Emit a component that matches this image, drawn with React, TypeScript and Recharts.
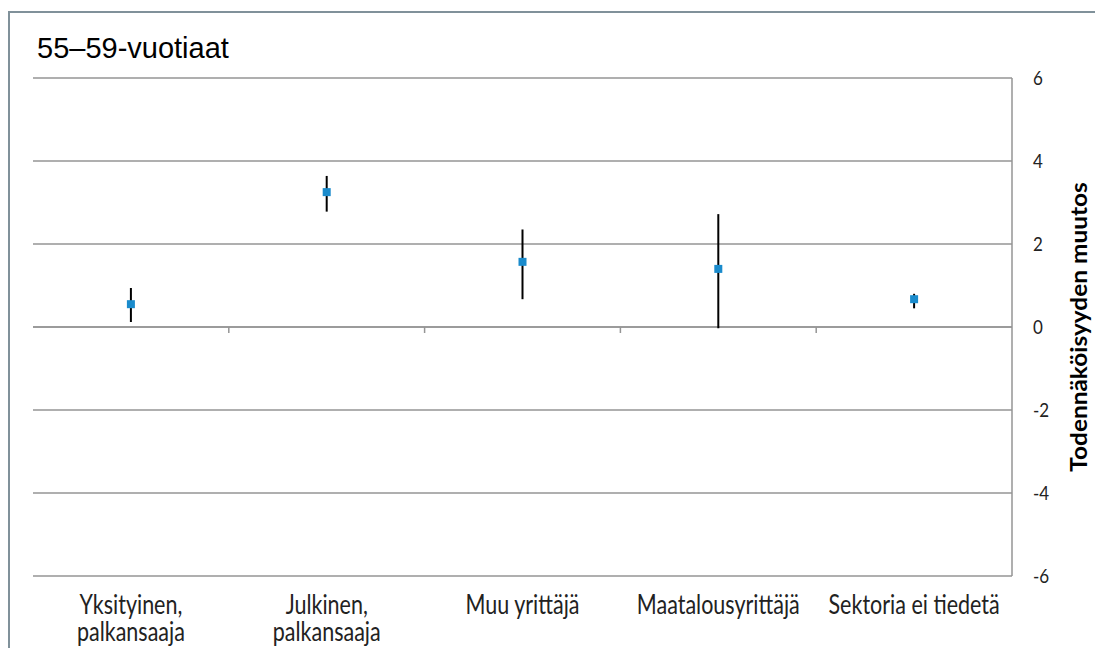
import React from "react";
import {
  ComposedChart,
  Line,
  XAxis,
  YAxis,
  CartesianGrid,
  ErrorBar,
  ReferenceLine,
  Label,
} from "recharts";

// category labels, broken into the lines they are drawn on
const categoryLines = [
  ["Yksityinen,", "palkansaaja"],
  ["Julkinen,", "palkansaaja"],
  ["Muu yrittäjä"],
  ["Maatalousyrittäjä"],
  ["Sektoria ei tiedetä"],
];
const categories = categoryLines.map((l) => l.join(" "));

// estimate and 95% interval
const estimates = [0.55, 3.25, 1.57, 1.4, 0.67];
const lowerBounds = [0.12, 2.78, 0.67, -0.03, 0.45];
const upperBounds = [0.94, 3.64, 2.35, 2.72, 0.8];

const yTicks = [-6, -4, -2, 0, 2, 4, 6];

const data = categories.map((name, i) => ({
  name,
  value: estimates[i],
  err: [estimates[i] - lowerBounds[i], upperBounds[i] - estimates[i]],
}));

const GRID = "#959595";
const FONT = "Lato, 'Open Sans', sans-serif";

// the original's Calibri text is drawn tall and narrow, so stretch it a bit
const CategoryTick = (props: any) => {
  const { x, y, payload } = props;
  const lines = categoryLines[categories.indexOf(payload.value)] || [payload.value];
  const sy = 1.25;
  return (
    <g transform={`translate(${x},${y + 30}) scale(1,${sy})`}>
      <text x={0} y={0} textAnchor="middle" fill="#222" fontSize={21.5} fontFamily={FONT}>
        {lines.map((line, i) => (
          <tspan key={i} x={0} dy={i === 0 ? 0 : 27 / sy}>
            {line}
          </tspan>
        ))}
      </text>
    </g>
  );
};

const ValueTick = (props: any) => {
  const { x, y, payload } = props;
  return (
    <g transform={`translate(${x},${y + 7}) scale(1,1.15)`}>
      <text x={0} y={0} textAnchor="start" fill="#222" fontSize={17} fontFamily={FONT}>
        {payload.value}
      </text>
    </g>
  );
};

const SquareDot = (props: any) => {
  const { cx, cy, index } = props;
  if (cx == null || cy == null) return null;
  return <rect key={index} x={cx - 4} y={cy - 4} width={8} height={8} fill="#1a8bcc" />;
};

// zero axis line with tick marks at the category boundaries
const ZeroAxis = (props: any) => {
  const { x1, y1, x2, y2 } = props;
  if (x1 == null) return null;
  const n = categories.length;
  const step = (x2 - x1) / n;
  return (
    <g>
      <line x1={x1} y1={y1} x2={x2} y2={y2} stroke={GRID} strokeWidth={1.5} />
      {Array.from({ length: n - 1 }, (_, k) => (
        <line
          key={k}
          x1={x1 + step * (k + 1)}
          x2={x1 + step * (k + 1)}
          y1={y1}
          y2={y1 + 6}
          stroke={GRID}
          strokeWidth={1.5}
        />
      ))}
    </g>
  );
};

const AxisTitle = (props: any) => {
  const { viewBox } = props;
  const x = viewBox.x + 66;
  const y = viewBox.y + viewBox.height / 2;
  return (
    <g transform={`translate(${x},${y}) scale(1,1.11) rotate(-90)`}>
      <text
        x={0}
        y={0}
        textAnchor="middle"
        dominantBaseline="central"
        fontSize={22}
        fontWeight="bold"
        fontFamily={FONT}
        fill="#000"
      >
        Todennäköisyyden muutos
      </text>
    </g>
  );
};

export default function App() {
  return (
    <div style={{ position: "absolute", left: 0, top: 0, width: 1095, height: 648, background: "#fff" }}>
      <svg
        width={1095}
        height={648}
        style={{ position: "absolute", left: 0, top: 0 }}
      >
        <line x1={9} y1={12} x2={1095} y2={12} stroke="#80919a" strokeWidth={2} />
        <line x1={9} y1={11} x2={9} y2={648} stroke="#80919a" strokeWidth={2} />
      </svg>
      <div
        style={{
          position: "absolute",
          left: 37,
          top: 31,
          fontFamily: "'Liberation Sans', Arial, sans-serif",
          fontSize: 29,
          color: "#000",
          lineHeight: "34px",
        }}
      >
        55–59-vuotiaat
      </div>
      <div style={{ position: "absolute", left: 0, top: 0 }}>
        <ComposedChart
          width={1095}
          height={648}
          data={data}
          margin={{ top: 78, right: 0, bottom: 0, left: 33 }}
        >
          <CartesianGrid horizontal vertical={false} stroke={GRID} strokeWidth={1.5} />
          <XAxis
            dataKey="name"
            scale="band"
            axisLine={false}
            tickLine={false}
            height={72}
            interval={0}
            tick={<CategoryTick />}
          />
          <YAxis
            orientation="right"
            domain={[-6, 6]}
            ticks={yTicks}
            width={83}
            axisLine={{ stroke: GRID, strokeWidth: 1.5 }}
            tickLine={false}
            tickSize={6}
            tickMargin={15}
            tick={<ValueTick />}
          >
            <Label content={<AxisTitle />} />
          </YAxis>
          <ReferenceLine y={0} shape={<ZeroAxis />} />
          <Line
            dataKey="value"
            stroke="none"
            dot={<SquareDot />}
            activeDot={false}
            isAnimationActive={false}
            legendType="none"
          >
            <ErrorBar dataKey="err" width={0} stroke="#000" strokeWidth={2} />
          </Line>
        </ComposedChart>
      </div>
    </div>
  );
}
